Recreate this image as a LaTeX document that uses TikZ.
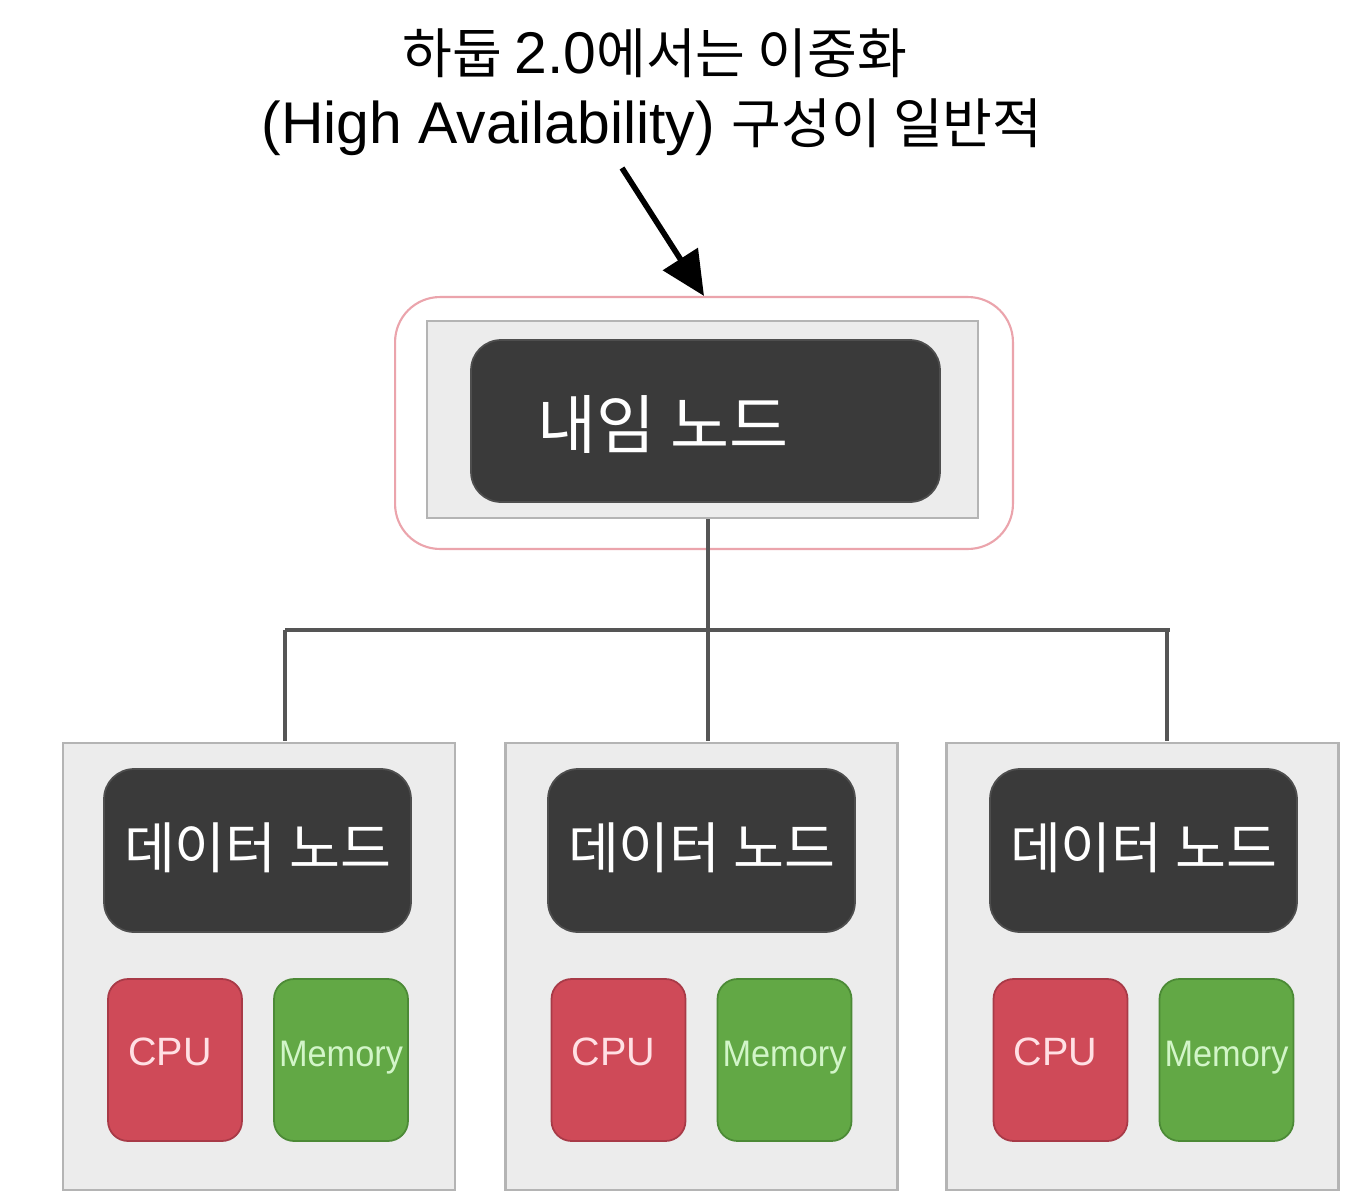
\documentclass[tikz,border=0pt]{standalone}
\usepackage{fontspec}
\setmainfont{Liberation Sans}
\newfontfamily\kr{Noto Sans CJK KR}
\newfontfamily\krs[Scale=0.92]{Noto Sans CJK KR}
\usetikzlibrary{arrows.meta}
\definecolor{darkfill}{HTML}{3A3A3A}
\definecolor{darkedge}{HTML}{4E4E4E}
\definecolor{grayfill}{HTML}{ECECEC}
\definecolor{grayedge}{HTML}{B4B4B4}
\definecolor{pinkedge}{HTML}{EBA4AC}
\definecolor{cpufill}{HTML}{CF4A58}
\definecolor{cpuedge}{HTML}{A83A47}
\definecolor{cputext}{HTML}{FFE0E4}
\definecolor{memfill}{HTML}{62A845}
\definecolor{memedge}{HTML}{4C8A36}
\definecolor{memtext}{HTML}{D2F5C8}
\definecolor{connc}{HTML}{555555}
\begin{document}
\begin{tikzpicture}[x=0.02cm,y=-0.02cm,
  pinkbox/.style={draw=pinkedge,line width=1.2pt,rounded corners=0.9cm,minimum width=12.36cm,minimum height=5.04cm,inner sep=0pt},
  graybox/.style={draw=grayedge,fill=grayfill,line width=1.4pt,inner sep=0pt},
  darkbox/.style={draw=darkedge,fill=darkfill,line width=1pt,rounded corners=0.6cm,inner sep=0pt},
  resbox/.style={line width=1pt,rounded corners=0.4cm,inner sep=0pt,minimum width=2.68cm,minimum height=3.24cm},
  cpubox/.style={resbox,draw=cpuedge,fill=cpufill},
  membox/.style={resbox,draw=memedge,fill=memfill},
  darktext/.style={text=white,font=\kr\fontsize{31.5}{36}\selectfont,inner sep=0pt},
  restext/.style={font=\fontsize{21}{25}\selectfont,inner sep=0pt},
  title/.style={font=\fontsize{33.5}{40}\selectfont,anchor=base,inner sep=0pt},
  conn/.style={draw=connc,line width=2.2pt},
  callout/.style={draw=black,line width=3.2pt,-{Triangle[length=25pt,width=23pt]}}
]
\useasboundingbox (0,0) rectangle (1346,1200);
\fill[white] (0,0) rectangle (1346,1200);

% title
\node[title] (t1) at (655,73) {{\krs 하둡 }2.0{\krs 에서는 이중화}};
\node[title] (t2) at (652,143) {(High Availability) {\krs 구성이 일반적}};

% name node group
\node[pinkbox] (ha) at (704,423) {};
\node[graybox,minimum width=11.02cm,minimum height=3.94cm] (nng) at (702.5,419.5) {};
\node[darkbox,minimum width=9.38cm,minimum height=3.24cm] (nn) at (705.5,421) {};
\node[darktext,font=\kr\fontsize{36.5}{42}\selectfont] (nnt) at (663,424) {내임 노드};

\coordinate (as) at (622,168);
\draw[callout] (as) -- (ha.north);

% data nodes
\foreach \i/\gx/\dx/\cx/\mx in {1/259/257.5/175/341, 2/701.5/701.5/618.5/784.5, 3/1142.5/1143.5/1060.5/1226.5}{
  \node[graybox,minimum width=7.84cm,minimum height=8.94cm] (dg\i) at (\gx,966.5) {};
  \node[darkbox,minimum width=6.14cm,minimum height=3.26cm] (dn\i) at (\dx,850.5) {};
  \node[darktext] (dt\i) at (\dx,848) {데이터 노드};
  \node[cpubox] (cpu\i) at (\cx,1060) {};
  \node[restext,text=cputext,font=\fontsize{22.5}{27}\selectfont] (cput\i) at ([xshift=-0.1cm,yshift=0.16cm]cpu\i.center) {CPU};
  \node[membox] (mem\i) at (\mx,1060) {};
  \node[restext,text=memtext,xscale=0.93] (memt\i) at ([yshift=0.04cm]mem\i.center) {Memory};
}

% connectors
\coordinate (top2) at (708,519);
\coordinate (b1) at (285,741);
\coordinate (b2) at (708,741);
\coordinate (b3) at (1167,741);
\coordinate (h1) at (285,630);
\coordinate (h3) at (1170,630);
\coordinate (h3d) at (1167,630);
\draw[conn] (top2) -- (b2);
\draw[conn] (h1) -- (h3);
\draw[conn] (h1) -- (b1);
\draw[conn] (h3d) -- (b3);
\end{tikzpicture}
\end{document}
